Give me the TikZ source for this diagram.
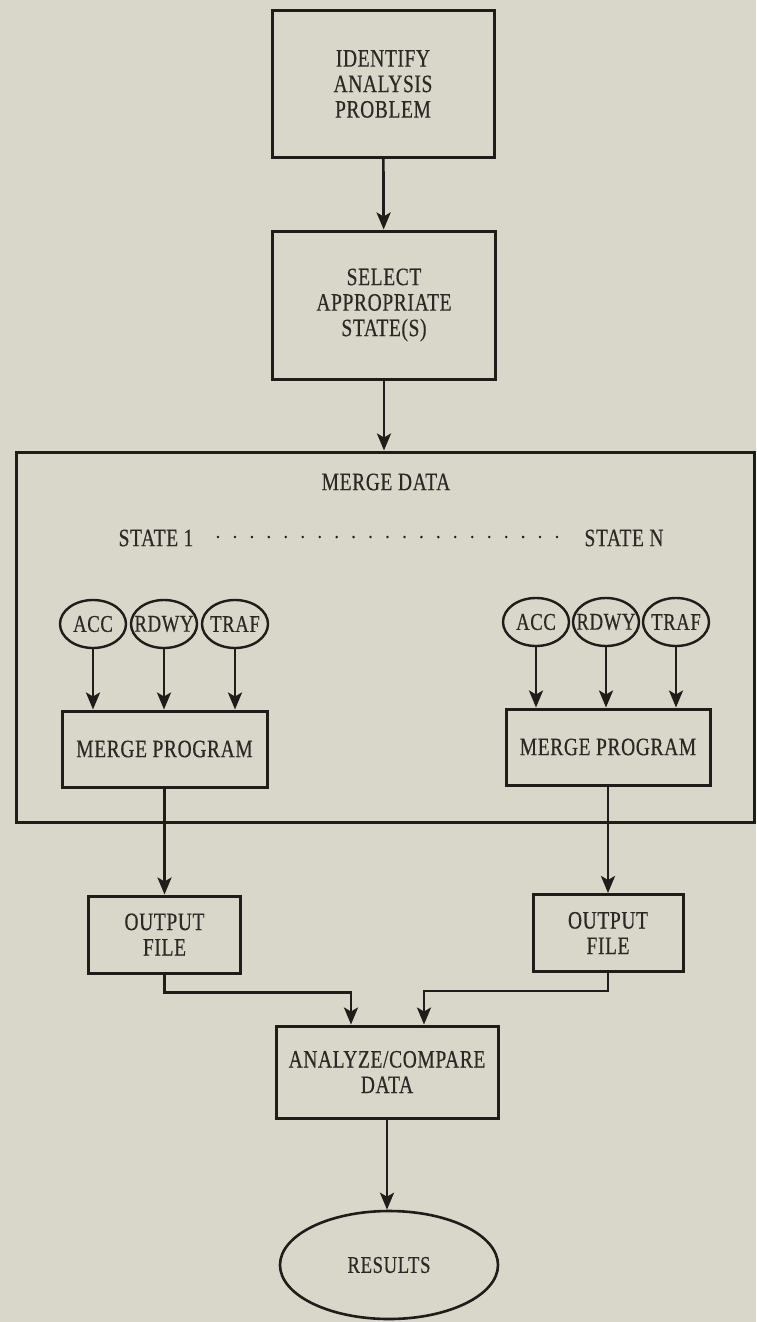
\documentclass[tikz,border=0pt]{standalone}
\usepackage{fontspec}
\setmainfont{Liberation Serif}[FakeStretch=0.78,LetterSpace=2.5,FakeBold=0.4]
\usetikzlibrary{shapes.geometric,arrows.meta}
\definecolor{paper}{RGB}{217,214,202}
\definecolor{ink}{RGB}{30,29,26}
\definecolor{inktext}{RGB}{42,41,37}

\begin{document}
\begin{tikzpicture}[x=1pt,y=-1pt,
    box/.style={draw=ink, line width=3pt, align=center, inner sep=0pt, text=inktext, font=\fontsize{25}{25.5}\selectfont},
    src/.style={draw=ink, ellipse, line width=2.4pt, minimum width=66pt, minimum height=48pt, inner xsep=-10pt, inner ysep=0pt, text=inktext, font=\fontsize{24}{25}\selectfont},
    arr/.style={draw=ink, line width=2.7pt, -{Stealth[length=17pt,width=14pt,inset=4pt]}},
    lbl/.style={text=inktext, font=\fontsize{25}{25.5}\selectfont, inner sep=0pt}]
    \fill[paper] (0,0) rectangle (756,1322) ;
    \useasboundingbox (0,0) rectangle (756,1322) ;
    \node[box, minimum width=222pt, minimum height=146pt] (idp) at (383,84) {IDENTIFY\\ANALYSIS\\PROBLEM} ;
    \node[box, minimum width=223pt, minimum height=148pt] (sel) at (384,305) {SELECT\\APPROPRIATE\\STATE(S)} ;
    \node[box, minimum width=738pt, minimum height=370pt] (mrg) at (385,637) {} ;
    \node[lbl] (mdt) at (386,482) {MERGE DATA} ;
    \node[lbl] (st1) at (156,538) {STATE 1} ;
    \node[lbl] (stn) at (624,538) {STATE N} ;
    \foreach \i in {0,...,20} \fill[ink] (218+16.95*\i,537) circle (1.4pt) ;
    \node[src] (acc1) at (93,624) {ACC} ;
    \node[src] (rdw1) at (164,624) {RDWY} ;
    \node[src] (trf1) at (235,624) {TRAF} ;
    \node[src] (acc2) at (536,622) {ACC} ;
    \node[src] (rdw2) at (606,622) {RDWY} ;
    \node[src] (trf2) at (676,622) {TRAF} ;
    \node[box, minimum width=205pt, minimum height=76pt] (mp1) at (164.5,749) {MERGE PROGRAM} ;
    \node[box, minimum width=204pt, minimum height=76pt] (mp2) at (608,747) {MERGE PROGRAM} ;
    \node[box, minimum width=152pt, minimum height=77pt] (out1) at (164.5,934.5) {OUTPUT\\FILE} ;
    \node[box, minimum width=150pt, minimum height=77pt] (out2) at (608,933) {OUTPUT\\FILE} ;
    \node[box, minimum width=222pt, minimum height=92pt] (anl) at (387,1072) {ANALYZE/COMPARE\\DATA} ;
    \node[src, minimum width=218pt, minimum height=108pt, line width=2.6pt] (res) at (389,1265) {RESULTS} ;
    \draw[arr] (idp) -- (sel) ;
    \draw[arr] (sel.south) -- (sel.south |- mrg.north) ;
    \foreach \s in {acc1,rdw1,trf1} \draw[arr] (\s.south) -- (\s.south |- mp1.north) ;
    \foreach \s in {acc2,rdw2,trf2} \draw[arr] (\s.south) -- (\s.south |- mp2.north) ;
    \draw[arr] (mp1) -- (out1) ;
    \draw[arr] (mp2) -- (out2) ;
    \draw[arr] (out1.south) -- ++(0,18) -| ([xshift=-36pt]anl.north) ;
    \draw[arr] (out2.south) -- ++(0,18) -| ([xshift=37pt]anl.north) ;
    \draw[arr] (anl.south) -- (anl.south |- res.north) ;
\end{tikzpicture}
\end{document}
